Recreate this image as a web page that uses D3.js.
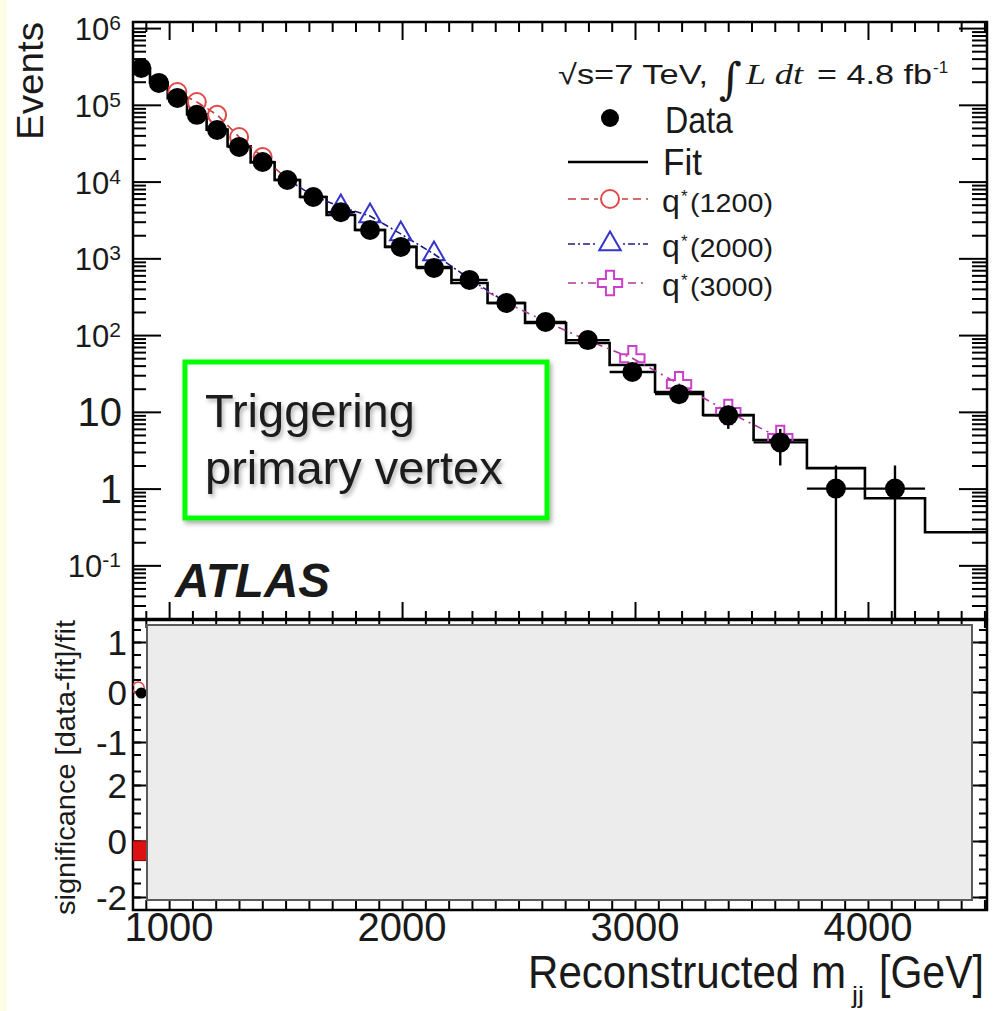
<!DOCTYPE html>
<html><head><meta charset="utf-8">
<script src="https://cdn.jsdelivr.net/npm/d3@7"></script>
<style>
body{margin:0;background:#fff}
svg{display:block}
text{font-family:Arial,"Liberation Sans",Helvetica,sans-serif;fill:#1a1a1a}
</style>
</head><body>
<svg id="chart" width="996" height="1011"></svg>
<script>
// ---------------- data ----------------
const binEdges = [843, 918, 994, 1077, 1161, 1251, 1350, 1453, 1562, 1676, 1798, 1927, 2062, 2212, 2367, 2528, 2704, 2891, 3086, 3292, 3509, 3738, 3987, 4245, 4530];
const dataCounts = [302000, 193000, 123000, 74000, 47000, 28300, 18000, 10500, 6300, 4000, 2340, 1410, 750, 524, 262, 148, 86, 33, 17, 9, 4, 1, 1];
const fitValues = [300000, 195000, 122000, 75000, 47500, 28800, 17800, 10500, 6300, 3670, 2340, 1410, 771, 477, 262, 144, 79, 40.7, 18.1, 9.1, 4.3, 1.85, 0.75, 0.27];

const q1200Bins = [0, 1, 2, 3, 4, 5, 6, 7];
const q1200Values = [303000, 197000, 147000, 109000, 74000, 38100, 20900, 10700];
const q2000Bins = [7, 8, 9, 10, 11, 12, 13, 14];
const q2000Values = [10700, 6500, 4670, 3560, 2080, 1140, 540, 265];
const q3000Bins = [13, 14, 15, 16, 17, 18, 19, 20];
const q3000Values = [500, 265, 150, 85, 50, 23, 9.96, 4.56];

const ratioBins = [0];
const ratioValues = [-0.02];
const sigBins = [0];
const sigValues = [-0.7];

const xMajorTicks = [1000, 2000, 3000, 4000];
const xTickLabels = ["1000", "2000", "3000", "4000"];
const yDecades = [0.1, 1, 10, 100, 1000, 10000, 100000, 1000000];
const yDecadeBase = ["10", "1", "10", "10", "10", "10", "10", "10"];
const yDecadeExp = ["-1", "", "", "2", "3", "4", "5", "6"];
const ratioTicks = [1, 0, -1];
const sigTicks = [2, 0, -2];

const legendLabels = ["Data", "Fit", "(1200)", "(2000)", "(3000)"];

// ---------------- layout ----------------
const svg = d3.select("#chart");
const L = 133, R = 987, T = 22, B1 = 619, T2 = 620, B2 = 910;

const x = d3.scaleLinear().domain([845, 4511]).range([L, R]);
const y = d3.scaleLog().domain([0.02, 1.2e6]).range([B1, T]);
const yr = d3.scaleLinear().domain([-1, 1]).range([742, 642]);
const ys = d3.scaleLinear().domain([-2, 2]).range([897, 785]);

const defs = svg.append("defs");
defs.append("clipPath").attr("id", "clipMain").append("rect")
  .attr("x", L).attr("y", T).attr("width", R - L).attr("height", B1 - T);
defs.append("clipPath").attr("id", "clipLow").append("rect")
  .attr("x", L).attr("y", T2).attr("width", R - L).attr("height", B2 - T2);
const f = defs.append("filter").attr("id", "shadow").attr("x", "-10%").attr("y", "-10%").attr("width", "130%").attr("height", "140%");
f.append("feDropShadow").attr("dx", 2).attr("dy", 3).attr("stdDeviation", 2.5).attr("flood-color", "#000").attr("flood-opacity", 0.35);
const f2 = defs.append("filter").attr("id", "tshadow").attr("x", "-5%").attr("y", "-20%").attr("width", "115%").attr("height", "150%");
f2.append("feDropShadow").attr("dx", 2).attr("dy", 3).attr("stdDeviation", 2).attr("flood-color", "#000").attr("flood-opacity", 0.3);

// cream margin strip on the left
svg.append("rect").attr("x", 0).attr("y", 0).attr("width", 7).attr("height", 1011).attr("fill", "#fdfce6");

// ---------------- ticks helpers ----------------
function tickGroup(tx, ty, axisFn, scale, values, size, sw) {
  const g = svg.append("g").attr("transform", `translate(${tx},${ty})`);
  g.call(axisFn(scale).tickValues(values).tickSize(size).tickFormat(""));
  g.select(".domain").remove();
  g.selectAll("line").attr("stroke", "#000").attr("stroke-width", sw || 2);
  return g;
}
const xMinor = d3.range(900, 4501, 100).filter(v => v % 1000 !== 0);
const yMinor = [];
[0.01, 0.1, 1, 10, 100, 1e3, 1e4, 1e5, 1e6].forEach(d => {
  for (let k = 2; k <= 9; k++) { const v = d * k; if (v >= 0.02 && v <= 1.2e6) yMinor.push(v); }
});

// main panel ticks
tickGroup(0, T, d3.axisBottom, x, xMinor, 10);
tickGroup(0, T, d3.axisBottom, x, xMajorTicks, 18);
tickGroup(0, B1, d3.axisTop, x, xMinor, 8);
tickGroup(0, B1, d3.axisTop, x, xMajorTicks, 17);
tickGroup(L, 0, d3.axisRight, y, yMinor, 13);
tickGroup(L, 0, d3.axisRight, y, yDecades, 28);
tickGroup(R, 0, d3.axisLeft, y, yMinor, 15);
tickGroup(R, 0, d3.axisLeft, y, yDecades, 28);

// lower panel ticks
const rMinor = d3.range(-1.25, 1.26, 0.25);
const sMinor = d3.range(-2, 2.51, 0.5);
tickGroup(0, B2, d3.axisTop, x, xMinor, 10);
tickGroup(0, B2, d3.axisTop, x, xMajorTicks, 20);
tickGroup(0, T2, d3.axisBottom, x, xMinor, 8);
tickGroup(L, 0, d3.axisRight, yr, rMinor, 8);
tickGroup(L, 0, d3.axisRight, yr, ratioTicks, 14);
tickGroup(L, 0, d3.axisRight, ys, sMinor, 8);
tickGroup(L, 0, d3.axisRight, ys, sigTicks, 14);
tickGroup(R, 0, d3.axisLeft, yr, rMinor, 8);
tickGroup(R, 0, d3.axisLeft, yr, ratioTicks, 14);
tickGroup(R, 0, d3.axisLeft, ys, sMinor, 8);
tickGroup(R, 0, d3.axisLeft, ys, sigTicks, 14);

// ---------------- main panel content ----------------
const centers = dataCounts.map((_, i) => (binEdges[i] + binEdges[i + 1]) / 2);
const main = svg.append("g").attr("clip-path", "url(#clipMain)");

// fit histogram (step)
const fitPts = fitValues.map((v, i) => [binEdges[i], v]);
fitPts.push([binEdges[fitValues.length], fitValues[fitValues.length - 1]]);
main.append("path")
  .attr("d", d3.line().x(d => x(d[0])).y(d => y(d[1])).curve(d3.curveStepAfter)(fitPts))
  .attr("fill", "none").attr("stroke", "#000").attr("stroke-width", 2.6);

// signal series
const sigSeries = [
  {bins: q1200Bins, vals: q1200Values, color: "#e04a4a", line: "#c83c3c", dash: "8,5", sym: "circle"},
  {bins: q2000Bins, vals: q2000Values, color: "#3535cc", line: "#1c1c80", dash: "7,3,2,3", sym: "triangle"},
  {bins: q3000Bins, vals: q3000Values, color: "#cc3fcc", line: "#a83a9a", dash: "8,5,2,5", sym: "cross"}
];
function drawMarker(g, sym, cx, cy, color) {
  if (sym === "circle") {
    g.append("circle").attr("cx", cx).attr("cy", cy).attr("r", 9)
      .attr("fill", "none").attr("stroke", color).attr("stroke-width", 2);
  } else {
    const type = sym === "triangle" ? d3.symbolTriangle : d3.symbolCross;
    const size = sym === "triangle" ? 200 : 330;
    g.append("path").attr("d", d3.symbol().type(type).size(size)())
      .attr("transform", `translate(${cx},${cy})`)
      .attr("fill", "none").attr("stroke", color).attr("stroke-width", 2);
  }
}
sigSeries.forEach(s => {
  const pts = s.bins.map((b, i) => [centers[b], s.vals[i], b]);
  main.append("path").attr("d", d3.line().x(d => x(d[0])).y(d => y(d[1]))(pts))
    .attr("fill", "none").attr("stroke", s.line).attr("stroke-width", 1.6).attr("stroke-dasharray", s.dash);
  // markers that coincide with the data point are hidden behind it in the original
  pts.filter(p => Math.abs(p[1] / dataCounts[p[2]] - 1) > 0.1)
    .forEach(p => drawMarker(main, s.sym, x(p[0]), y(p[1]), s.color));
});

// data error bars and markers
dataCounts.forEach((n, i) => {
  const e = Math.sqrt(n);
  const lo = n - e > 0 ? y(n - e) : B1 + 5;
  main.append("line").attr("x1", x(centers[i])).attr("x2", x(centers[i]))
    .attr("y1", y(n + e)).attr("y2", lo).attr("stroke", "#000").attr("stroke-width", 2.4);
  main.append("line").attr("x1", x(binEdges[i])).attr("x2", x(binEdges[i + 1]))
    .attr("y1", y(n)).attr("y2", y(n)).attr("stroke", "#000").attr("stroke-width", 2.4);
});
main.selectAll("circle.data").data(dataCounts).enter().append("circle").attr("class", "data")
  .attr("cx", (d, i) => x(centers[i])).attr("cy", d => y(d)).attr("r", 10).attr("fill", "#000");

// frames
svg.append("rect").attr("x", L).attr("y", T).attr("width", R - L).attr("height", B1 - T)
  .attr("fill", "none").attr("stroke", "#000").attr("stroke-width", 2.5);
svg.append("rect").attr("x", L).attr("y", T2).attr("width", R - L).attr("height", B2 - T2)
  .attr("fill", "none").attr("stroke", "#000").attr("stroke-width", 2.5);

// ---------------- lower panel content ----------------
const low = svg.append("g").attr("clip-path", "url(#clipLow)");
sigBins.forEach((b, i) => {
  low.append("rect").attr("x", x(binEdges[b])).attr("width", x(binEdges[b + 1]) - x(binEdges[b]))
    .attr("y", ys(0)).attr("height", ys(sigValues[i]) - ys(0))
    .attr("fill", "#dd1111").attr("stroke", "#8a0000").attr("stroke-width", 1);
});
ratioBins.forEach((b, i) => {
  low.append("circle").attr("cx", x(centers[b]) - 3).attr("cy", yr(ratioValues[i]) - 5).attr("r", 6)
    .attr("fill", "none").attr("stroke", "#e04a4a").attr("stroke-width", 1.5);
  low.append("circle").attr("cx", x(centers[b])).attr("cy", yr(ratioValues[i])).attr("r", 5.5).attr("fill", "#000");
});
// grey cover box
svg.append("rect").attr("x", 147).attr("y", 625).attr("width", 825).attr("height", 275)
  .attr("fill", "#ececec").attr("stroke", "#5a5a5a").attr("stroke-width", 2);

// ---------------- axis labels ----------------
yDecades.forEach((v, i) => {
  const yy = y(v);
  if (yDecadeExp[i] === "") {
    svg.append("text").attr("x", 122).attr("y", yy + 14).attr("text-anchor", "end")
      .attr("font-size", 40).text(yDecadeBase[i]);
  } else {
    const t = svg.append("text").attr("x", 121).attr("y", yy + 12).attr("text-anchor", "end");
    t.append("tspan").attr("font-size", 31).text(yDecadeBase[i]);
    t.append("tspan").attr("font-size", 21).attr("dy", -10).text(yDecadeExp[i]);
  }
});
ratioTicks.forEach(v => svg.append("text").attr("x", 127).attr("y", yr(v) + 13).attr("text-anchor", "end")
  .attr("font-size", 35).text(v));
sigTicks.forEach(v => svg.append("text").attr("x", 127).attr("y", ys(v) + 13).attr("text-anchor", "end")
  .attr("font-size", 35).text(v));
xMajorTicks.forEach((v, i) => svg.append("text").attr("x", x(v)).attr("y", 941).attr("text-anchor", "middle")
  .attr("font-size", 40).text(xTickLabels[i]));

// titles
svg.append("text").attr("transform", "translate(43,140) rotate(-90)").attr("font-size", 36)
  .attr("textLength", 118).attr("lengthAdjust", "spacingAndGlyphs").text("Events");
svg.append("text").attr("transform", "translate(75,915) rotate(-90)").attr("font-size", 28)
  .attr("textLength", 295).attr("lengthAdjust", "spacingAndGlyphs").text("significance [data-fit]/fit");
svg.append("text").attr("x", 528).attr("y", 988).attr("font-size", 46)
  .attr("textLength", 318).attr("lengthAdjust", "spacingAndGlyphs").text("Reconstructed m");
svg.append("text").attr("x", 852).attr("y", 1003).attr("font-size", 24)
  .attr("textLength", 12).attr("lengthAdjust", "spacingAndGlyphs").text("jj");
svg.append("text").attr("x", 879).attr("y", 988).attr("font-size", 46)
  .attr("textLength", 105).attr("lengthAdjust", "spacingAndGlyphs").text("[GeV]");

// ATLAS
svg.append("text").attr("x", 175).attr("y", 597).attr("font-size", 48).attr("font-weight", "bold")
  .attr("font-style", "italic").attr("fill", "#000").attr("textLength", 155).attr("lengthAdjust", "spacingAndGlyphs").text("ATLAS");

// ---------------- legend ----------------
svg.append("text").attr("x", 558).attr("y", 84).attr("font-size", 28)
  .attr("textLength", 150).attr("lengthAdjust", "spacingAndGlyphs").text("√s=7 TeV,");
svg.append("text").attr("x", 719).attr("y", 94).attr("font-size", 44)
  .style("font-family", "'DejaVu Serif','Liberation Serif',serif").text("∫");
svg.append("text").attr("x", 746).attr("y", 84).attr("font-size", 30).attr("font-style", "italic")
  .style("font-family", "'Liberation Serif','Times New Roman',serif")
  .attr("textLength", 57).attr("lengthAdjust", "spacingAndGlyphs").text("L dt");
svg.append("text").attr("x", 817).attr("y", 84).attr("font-size", 28)
  .attr("textLength", 115).attr("lengthAdjust", "spacingAndGlyphs").text("= 4.8 fb");
svg.append("text").attr("x", 933).attr("y", 73).attr("font-size", 17).text("-1");

const lg = svg.append("g");
lg.append("circle").attr("cx", 610).attr("cy", 118).attr("r", 9).attr("fill", "#000");
lg.append("text").attr("x", 665).attr("y", 133).attr("font-size", 36)
  .attr("textLength", 68).attr("lengthAdjust", "spacingAndGlyphs").text(legendLabels[0]);
lg.append("line").attr("x1", 568).attr("x2", 648).attr("y1", 162).attr("y2", 162).attr("stroke", "#000").attr("stroke-width", 2.6);
lg.append("text").attr("x", 663).attr("y", 175).attr("font-size", 36)
  .attr("textLength", 39).attr("lengthAdjust", "spacingAndGlyphs").text(legendLabels[1]);
const rowY = [199, 244, 283];
sigSeries.forEach((s, i) => {
  const cy = rowY[i];
  lg.append("line").attr("x1", 568).attr("x2", 648).attr("y1", cy).attr("y2", cy)
    .attr("stroke", s.line).attr("stroke-width", 1.6).attr("stroke-dasharray", s.dash);
  lg.append("rect").attr("x", 598).attr("y", cy - 11).attr("width", 24).attr("height", 22).attr("fill", "#fff");
  drawMarker(lg, s.sym, 610, cy, s.color);
  const base = cy + 13;
  lg.append("text").attr("x", 662).attr("y", base).attr("font-size", 32).text("q");
  lg.append("text").attr("x", 681).attr("y", base - 10).attr("font-size", 17).text("*");
  lg.append("text").attr("x", 690).attr("y", base).attr("font-size", 25)
    .attr("textLength", 83).attr("lengthAdjust", "spacingAndGlyphs").text(legendLabels[2 + i]);
});

// ---------------- annotation box ----------------
svg.append("rect").attr("x", 185).attr("y", 362).attr("width", 362).attr("height", 156)
  .attr("fill", "#fff").attr("stroke", "#00ff00").attr("stroke-width", 5).attr("filter", "url(#shadow)");
svg.append("text").attr("x", 205).attr("y", 427).attr("font-size", 47).attr("fill", "#595959")
  .attr("filter", "url(#tshadow)").text("Triggering");
svg.append("text").attr("x", 205).attr("y", 484).attr("font-size", 47).attr("fill", "#595959")
  .attr("filter", "url(#tshadow)").text("primary vertex");
</script>
</body></html>
